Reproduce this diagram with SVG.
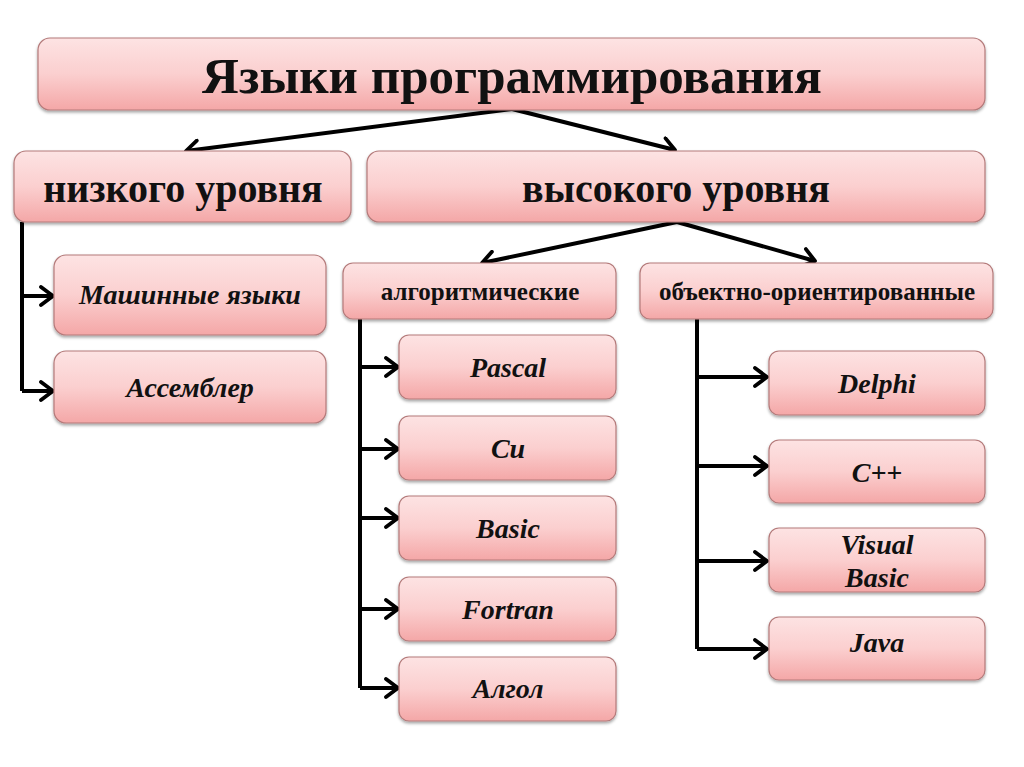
<svg xmlns="http://www.w3.org/2000/svg" width="1024" height="767" viewBox="0 0 1024 767">
<defs>
<linearGradient id="pink" x1="0" y1="0" x2="0" y2="1">
<stop offset="0" stop-color="#fde3e3"/>
<stop offset="0.5" stop-color="#fbcfcf"/>
<stop offset="1" stop-color="#f4a7a7"/>
</linearGradient>
<filter id="sh" x="-10%" y="-20%" width="120%" height="150%">
<feDropShadow dx="0" dy="2" stdDeviation="1.5" flood-color="#000" flood-opacity="0.35"/>
</filter>
<marker id="arr" viewBox="0 0 18 22" refX="15" refY="11" markerWidth="18" markerHeight="22" markerUnits="userSpaceOnUse" orient="auto">
<polyline points="3,2 15,11 3,20" fill="none" stroke="#000" stroke-width="3.8" stroke-linecap="round" stroke-linejoin="round"/>
</marker>
</defs>
<style>
.box{fill:url(#pink);stroke:#b47a7a;stroke-width:1.2;filter:url(#sh)}
.t{font-family:"Liberation Serif","Times New Roman",serif;font-weight:bold;fill:#111;text-anchor:middle}
.i{font-style:italic;font-size:28px}
.c{fill:none;stroke:#000;stroke-width:4;stroke-linejoin:round}
</style>
<rect width="1024" height="767" fill="#fff"/>
<g id="connectors">
<path class="c" d="M512,109 L186,151" marker-end="url(#arr)"/>
<path class="c" d="M512,109 L675,150" marker-end="url(#arr)"/>
<path class="c" d="M677,222 L482,263" marker-end="url(#arr)"/>
<path class="c" d="M677,222 L815,261" marker-end="url(#arr)"/>
<path class="c" d="M22,222 V391"/>
<path class="c" d="M22,296 H53" marker-end="url(#arr)"/>
<path class="c" d="M22,391 H53" marker-end="url(#arr)"/>
<path class="c" d="M360,319 V688"/>
<path class="c" d="M360,367 H398" marker-end="url(#arr)"/>
<path class="c" d="M360,449 H398" marker-end="url(#arr)"/>
<path class="c" d="M360,518 H398" marker-end="url(#arr)"/>
<path class="c" d="M360,609 H398" marker-end="url(#arr)"/>
<path class="c" d="M360,688 H398" marker-end="url(#arr)"/>
<path class="c" d="M697,319 V649"/>
<path class="c" d="M697,377 H767" marker-end="url(#arr)"/>
<path class="c" d="M697,466 H767" marker-end="url(#arr)"/>
<path class="c" d="M697,561 H767" marker-end="url(#arr)"/>
<path class="c" d="M697,649 H767" marker-end="url(#arr)"/>
</g>
<g id="title"><rect class="box" x="38" y="38" width="947" height="72" rx="12"/><text class="t" x="512" y="93" font-size="51">Языки программирования</text></g>
<g id="low"><rect class="box" x="14" y="151" width="337" height="71" rx="12"/><text class="t" x="183" y="202" font-size="40">низкого уровня</text></g>
<g id="high"><rect class="box" x="367" y="151" width="618" height="71" rx="12"/><text class="t" x="676" y="202" font-size="40">высокого уровня</text></g>
<g id="machine"><rect class="box" x="54" y="255" width="272" height="80" rx="12"/><text class="t i" x="190" y="304">Машинные языки</text></g>
<g id="asm"><rect class="box" x="54" y="351" width="272" height="72" rx="12"/><text class="t i" x="190" y="397">Ассемблер</text></g>
<g id="algo"><rect class="box" x="343" y="263" width="273" height="56" rx="10"/><text class="t" x="480" y="300" font-size="25">алгоритмические</text></g>
<g id="oop"><rect class="box" x="640" y="263" width="353" height="56" rx="10"/><text class="t" x="817" y="300" font-size="25">объектно-ориентированные</text></g>
<g id="pascal"><rect class="box" x="399" y="335" width="217" height="64" rx="10"/><text class="t i" x="508" y="377">Pascal</text></g>
<g id="cu"><rect class="box" x="399" y="416" width="217" height="64" rx="10"/><text class="t i" x="508" y="458">Cu</text></g>
<g id="basic"><rect class="box" x="399" y="496" width="217" height="64" rx="10"/><text class="t i" x="508" y="538">Basic</text></g>
<g id="fortran"><rect class="box" x="399" y="577" width="217" height="64" rx="10"/><text class="t i" x="508" y="619">Fortran</text></g>
<g id="algol"><rect class="box" x="399" y="657" width="217" height="64" rx="10"/><text class="t i" x="508" y="698">Алгол</text></g>
<g id="delphi"><rect class="box" x="769" y="351" width="216" height="64" rx="10"/><text class="t i" x="877" y="393">Delphi</text></g>
<g id="cpp"><rect class="box" x="769" y="440" width="216" height="63" rx="10"/><text class="t i" x="877" y="482">C++</text></g>
<g id="vb"><rect class="box" x="769" y="528" width="216" height="64" rx="10"/><text class="t i" x="877" y="554">Visual</text><text class="t i" x="877" y="587">Basic</text></g>
<g id="java"><rect class="box" x="769" y="617" width="216" height="63" rx="10"/><text class="t i" x="877" y="652">Java</text></g>
</svg>
